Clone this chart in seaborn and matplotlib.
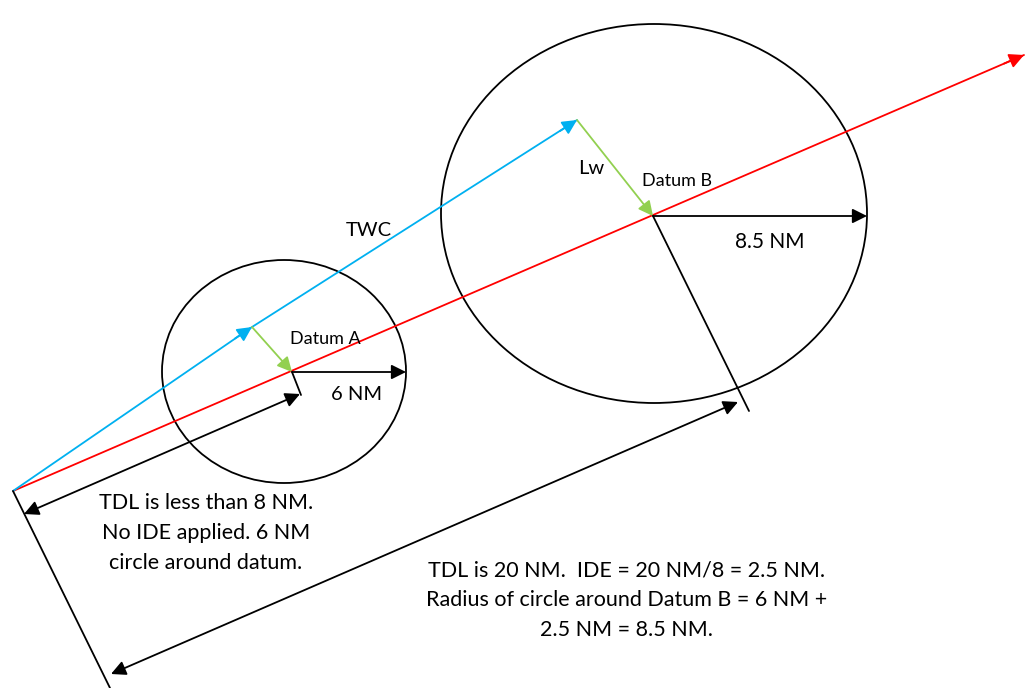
import matplotlib
matplotlib.use("Agg")
import matplotlib.pyplot as plt
import seaborn as sns
import pandas as pd
from matplotlib.patches import Ellipse

# geometria del diagrama (coordenadas en pixeles de la imagen)
origen = (13, 491)
datum_a = (292, 372)
datum_b = (653, 216)
fin_rojo = (1024, 55)
twc_medio = (252, 327)
twc_fin = (577, 120)

circulo_a = {"centro": (284, 371.5), "ancho": 244, "alto": 223}
circulo_b = {"centro": (654, 213.5), "ancho": 426, "alto": 379}

radio_a_fin = (406, 372)
radio_b_fin = (867, 216)

perp_a = [datum_a, (301, 395)]
perp_b = [datum_b, (749, 411)]
perp_o = [origen, (110, 688)]

tdl_a = [(24, 514), (300, 394)]
tdl_b = [(111, 674), (738, 402)]

textos = [
    ("TWC", 369, 231, 14.5),
    ("Lw", 591, 169, 14.5),
    ("Datum B", 677, 181, 13),
    ("Datum A", 325, 339, 13),
    ("6 NM", 357, 395, 14.5),
    ("8.5 NM", 770, 242, 15),
    ("TDL is less than 8 NM.\nNo IDE applied. 6 NM\ncircle around datum.", 206, 533, 15.5),
    ("TDL is 20 NM.  IDE = 20 NM/8 = 2.5 NM.\nRadius of circle around Datum B = 6 NM +\n2.5 NM = 8.5 NM.", 627, 600, 15.5),
]

ROJO = "#FF0000"
AZUL = "#00B0F0"
VERDE = "#92D050"

sns.set_theme(style="white")
plt.rcParams["font.family"] = ["Lato", "DejaVu Sans"]

fig = plt.figure(figsize=(10.27, 6.88), dpi=100)
ax = fig.add_axes([0, 0, 1, 1])
ax.set_xlim(0, 1027)
ax.set_ylim(688, 0)
ax.axis("off")


def flecha(ax, a, b, color, lw=1.3, estilo="-|>", escala=22):
    ax.annotate("", xy=b, xytext=a,
                arrowprops=dict(arrowstyle=estilo, color=color, lw=lw,
                                mutation_scale=escala, shrinkA=0, shrinkB=0))


# circulos
for c in (circulo_a, circulo_b):
    ax.add_patch(Ellipse(c["centro"], c["ancho"], c["alto"], fill=False,
                         edgecolor="black", lw=1.3))

# linea roja (rumbo)
rojo = pd.DataFrame({"x": [origen[0], fin_rojo[0]], "y": [origen[1], fin_rojo[1]]})
sns.lineplot(data=rojo, x="x", y="y", color=ROJO, lw=1.3, ax=ax, sort=False)
flecha(ax, (fin_rojo[0] - 20, fin_rojo[1] + 8.6), fin_rojo, ROJO)

# TWC azul
azul = pd.DataFrame({"x": [origen[0], twc_medio[0], twc_fin[0]],
                     "y": [origen[1], twc_medio[1], twc_fin[1]]})
sns.lineplot(data=azul, x="x", y="y", color=AZUL, lw=1.3, ax=ax, sort=False)
flecha(ax, (twc_medio[0] - 17, twc_medio[1] + 11.5), twc_medio, AZUL)
flecha(ax, (twc_fin[0] - 17, twc_fin[1] + 11), twc_fin, AZUL)

# Lw verde
flecha(ax, twc_medio, datum_a, VERDE)
flecha(ax, twc_fin, datum_b, VERDE)

# radios
flecha(ax, datum_a, radio_a_fin, "black")
flecha(ax, datum_b, radio_b_fin, "black")

# lineas perpendiculares
for p in (perp_a, perp_b, perp_o):
    ax.plot([p[0][0], p[1][0]], [p[0][1], p[1][1]], color="black", lw=1.3)

# cotas TDL
for t in (tdl_a, tdl_b):
    flecha(ax, t[0], t[1], "black", estilo="<|-|>")

for txt, x, y, tam in textos:
    ax.text(x, y, txt, ha="center", va="center", fontsize=tam,
            color="black", linespacing=1.6)

fig.savefig("out.png", dpi=100)
